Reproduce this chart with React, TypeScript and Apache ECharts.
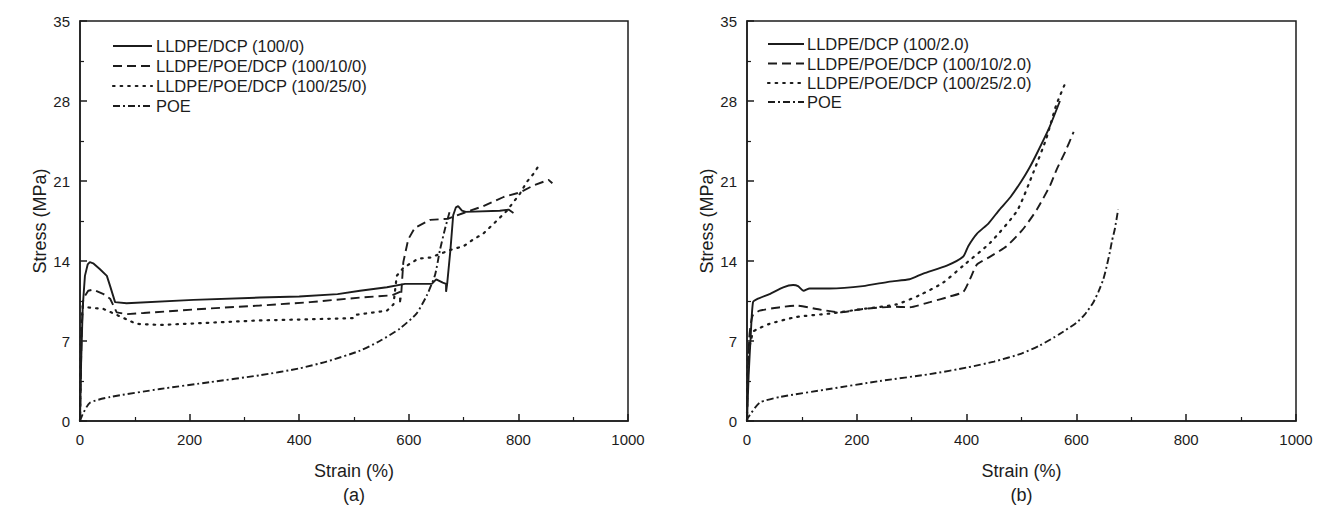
import React, { useEffect, useRef } from "react";
import * as echarts from "echarts";

// ---------- data (strain %, stress MPa) ----------
const A_LLDPE_DCP: [number, number][] = [
  [0, 0], [2, 5], [5, 10], [9, 12.7], [14, 13.7], [18, 13.9], [24, 13.8], [36, 13.3], [49, 12.7],
  [55, 11.8], [64, 10.4], [85, 10.3], [207, 10.6], [328, 10.8], [400, 10.9], [470, 11.1], [511, 11.4],
  [560, 11.7], [593, 12.0], [642, 12.0], [650, 12.4], [662, 12.1], [668, 12.0], [668, 11.3], [670, 12.0],
  [676, 15.0], [681, 18.0], [686, 18.7], [690, 18.8], [697, 18.4], [704, 18.3], [766, 18.4], [782, 18.5], [791, 18.2],
];
const A_POE10: [number, number][] = [
  [0, 0], [3, 8], [6, 10.7], [15, 11.4], [24, 11.5], [43, 11.1], [55, 10.7], [67, 9.5], [85, 9.35],
  [116, 9.45], [176, 9.65], [237, 9.85], [328, 10.1], [420, 10.4], [511, 10.8], [569, 11.0], [584, 11.3],
  [584, 10.4], [586, 11.0], [590, 13.9], [599, 15.9], [611, 16.9], [639, 17.6], [672, 17.7], [700, 18.2],
  [736, 18.8], [773, 19.6], [803, 20.0], [827, 20.6], [855, 21.1], [862, 20.8],
];
const A_POE25: [number, number][] = [
  [0, 0], [2, 8], [5, 10.1], [12, 9.95], [43, 9.8], [64, 9.35], [103, 8.5], [146, 8.4], [237, 8.6],
  [328, 8.8], [420, 8.9], [500, 9.0], [505, 9.3], [560, 9.65], [572, 10.2], [578, 12.7], [590, 13.4],
  [617, 14.2], [639, 14.3], [678, 15.0], [700, 15.3], [718, 15.9], [736, 16.4], [760, 17.5], [779, 18.4],
  [803, 19.9], [815, 20.9], [827, 21.6], [838, 22.4],
];
const A_POE: [number, number][] = [
  [0, 0], [5, 0.6], [18, 1.6], [55, 2.1], [146, 2.8], [237, 3.4], [328, 4.0], [400, 4.6], [450, 5.2],
  [511, 6.15], [547, 7.0], [584, 8.1], [614, 9.4], [633, 11.0], [648, 12.8], [657, 15.0], [666, 16.8], [675, 18.4],
];

const B_LLDPE_DCP: [number, number][] = [
  [0, 0], [3, 4], [6.5, 7.2], [11, 10.4], [20, 10.7], [41, 11.1], [66, 11.7], [84, 11.9], [93, 11.8],
  [103, 11.4], [114, 11.6], [150, 11.6], [211, 11.8], [260, 12.2], [296, 12.4], [321, 12.9], [364, 13.6],
  [394, 14.4], [403, 15.3], [419, 16.4], [440, 17.3], [460, 18.5], [480, 19.6], [500, 21.0], [515, 22.2],
  [530, 23.6], [550, 25.6], [570, 28.0],
];
const B_POE10: [number, number][] = [
  [0, 0], [4, 7.2], [10, 9.2], [23, 9.65], [60, 9.95], [90, 10.1], [127, 9.8], [169, 9.5], [211, 9.8],
  [272, 10.0], [296, 9.95], [333, 10.4], [370, 10.9], [394, 11.3], [406, 12.4], [419, 13.7], [440, 14.3],
  [473, 15.3], [503, 16.8], [528, 18.5], [552, 20.6], [564, 22.0], [580, 23.6], [595, 25.3],
];
const B_POE25: [number, number][] = [
  [0, 0], [2, 5.7], [11, 7.8], [17, 8.0], [41, 8.5], [90, 9.1], [150, 9.4], [211, 9.8], [272, 10.2],
  [314, 11.0], [357, 12.1], [394, 13.6], [443, 15.6], [492, 18.4], [522, 21.8], [545, 24.7], [563, 27.6], [580, 29.6],
];
const B_POE: [number, number][] = [
  [0, 0], [2, 0.3], [23, 1.6], [60, 2.1], [150, 2.8], [242, 3.5], [333, 4.1], [403, 4.7], [450, 5.2],
  [500, 5.9], [533, 6.6], [569, 7.6], [600, 8.6], [615, 9.3], [631, 10.4], [640, 11.3], [649, 12.4],
  [655, 13.5], [661, 14.8], [665, 15.8], [670, 16.8], [676, 18.5],
];

const LEGEND_A = ["LLDPE/DCP (100/0)", "LLDPE/POE/DCP (100/10/0)", "LLDPE/POE/DCP (100/25/0)", "POE"];
const LEGEND_B = ["LLDPE/DCP (100/2.0)", "LLDPE/POE/DCP (100/10/2.0)", "LLDPE/POE/DCP (100/25/2.0)", "POE"];
const PANEL_LABELS = ["(a)", "(b)"];
const X_NAME = "Strain (%)";
const Y_NAME = "Stress (MPa)";

// ---------- styles ----------
const FONT = "'Liberation Sans', Arial, Helvetica, sans-serif";
const INK = "#1c1c1c";
const DASHES: (number[] | "solid")[] = ["solid", [9, 5], [1.6, 6], [7, 3, 2, 3]];

export default function App() {
  const ref = useRef<HTMLDivElement>(null);

  useEffect(() => {
    if (!ref.current) return;
    const chart = echarts.init(ref.current, undefined, { renderer: "svg" });

    const grids = [
      { left: 80, top: 21, width: 548, height: 400 },
      { left: 747, top: 21, width: 549, height: 400 },
    ];

    const xAxis = grids.map((_, i) => ({
      type: "value",
      gridIndex: i,
      min: 0,
      max: 1000,
      interval: 200,
      axisLine: { show: true, onZero: false, lineStyle: { color: INK, width: 1.5 } },
      axisTick: { show: true, inside: true, length: 7, lineStyle: { color: INK, width: 1.5 } },
      minorTick: { show: true, splitNumber: 2, length: 4, lineStyle: { color: INK, width: 1.2 } },
      splitLine: { show: false },
      axisLabel: {
        fontSize: 15, color: INK, margin: 11, fontFamily: FONT,
        formatter: (v: number) => String(v),
      },
      name: X_NAME,
      nameLocation: "middle",
      nameGap: 41,
      nameTextStyle: { fontSize: 18, color: INK, fontFamily: FONT },
    }));

    const yAxis = grids.map((_, i) => ({
      type: "value",
      gridIndex: i,
      min: 0,
      max: 35,
      interval: 7,
      axisLine: { show: true, onZero: false, lineStyle: { color: INK, width: 1.5 } },
      axisTick: { show: true, inside: true, length: 7, lineStyle: { color: INK, width: 1.5 } },
      minorTick: { show: true, splitNumber: 2, length: 4, lineStyle: { color: INK, width: 1.2 } },
      splitLine: { show: false },
      axisLabel: { fontSize: 15, color: INK, margin: 10, fontFamily: FONT },
      name: Y_NAME,
      nameLocation: "middle",
      nameGap: 31,
      nameTextStyle: { fontSize: 18, color: INK, fontFamily: FONT },
    }));

    const seriesData = [
      [A_LLDPE_DCP, A_POE10, A_POE25, A_POE],
      [B_LLDPE_DCP, B_POE10, B_POE25, B_POE],
    ];
    const names = [LEGEND_A, LEGEND_B];

    const series: any[] = [];
    seriesData.forEach((group, gi) => {
      group.forEach((data, si) => {
        const smooth = gi === 1 || si === 3 ? 0.2 : false;
        series.push({
          type: "line",
          name: names[gi][si],
          xAxisIndex: gi,
          yAxisIndex: gi,
          data,
          smooth,
          showSymbol: false,
          symbol: "none",
          silent: true,
          lineStyle: {
            color: INK,
            width: si === 2 ? 2.2 : 1.9,
            type: DASHES[si],
            cap: si === 2 ? "round" : "butt",
          },
        });
      });
    });

    const legendPos = [
      { lineX: 113, lineLen: 39, textX: 156, rows: [46, 66, 86, 106] },
      { lineX: 768, lineLen: 36, textX: 807, rows: [44, 63.5, 83, 102] },
    ];
    const graphic: any[] = [];
    legendPos.forEach((lp, gi) => {
      lp.rows.forEach((y, si) => {
        const d = DASHES[si];
        graphic.push({
          type: "line",
          silent: true,
          shape: { x1: lp.lineX, y1: y, x2: lp.lineX + lp.lineLen, y2: y },
          style: {
            stroke: INK,
            lineWidth: si === 2 ? 2.2 : 1.9,
            lineDash: d === "solid" ? null : d,
            lineCap: si === 2 ? "round" : "butt",
          },
        });
        graphic.push({
          type: "text",
          silent: true,
          x: lp.textX,
          y,
          style: {
            text: names[gi][si],
            fontSize: 16.5,
            fontFamily: FONT,
            fill: INK,
            verticalAlign: "middle",
            align: "left",
          },
        });
      });
      graphic.push({
        type: "text",
        silent: true,
        x: grids[gi].left + grids[gi].width / 2,
        y: 495,
        style: {
          text: PANEL_LABELS[gi],
          fontSize: 18,
          fontFamily: FONT,
          fill: INK,
          align: "center",
          verticalAlign: "middle",
        },
      });
    });

    chart.setOption({
      animation: false,
      backgroundColor: "#ffffff",
      grid: grids.map((g) => ({ ...g, show: true, borderColor: INK, borderWidth: 1.5, backgroundColor: "transparent" })),
      xAxis,
      yAxis,
      series,
      graphic,
    });

    return () => chart.dispose();
  }, []);

  return (
    <div
      ref={ref}
      style={{ position: "fixed", left: 0, top: 0, width: 1320, height: 511, background: "#fff" }}
    />
  );
}
